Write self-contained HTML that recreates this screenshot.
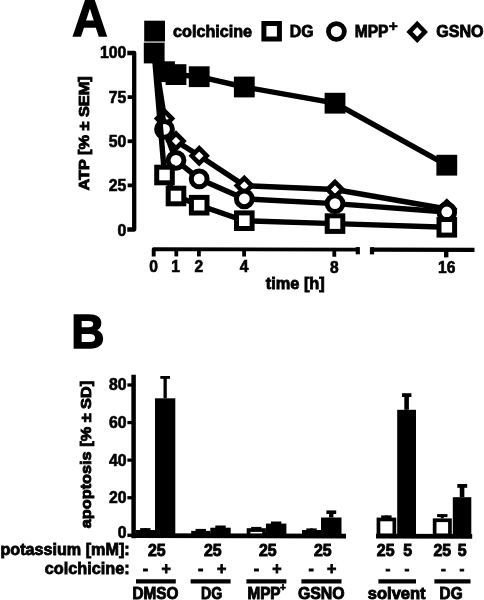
<!DOCTYPE html>
<html><head><meta charset="utf-8"><title>Figure</title>
<style>
html,body{margin:0;padding:0;background:#fff;}
svg{display:block;filter:blur(0.4px);}
svg text{font-family:"Liberation Sans",sans-serif;font-weight:bold;fill:#000;stroke:#000;stroke-width:0.6px;}
</style></head><body>
<svg width="484" height="600" viewBox="0 0 484 600">
<rect width="484" height="600" fill="#fff"/>
<text x="72.3" y="35.5" font-size="51.5" text-anchor="start" textLength="35.3" lengthAdjust="spacingAndGlyphs" style="stroke-width:1.5px">A</text>
<text x="71.2" y="347.6" font-size="48" text-anchor="start" textLength="33.3" lengthAdjust="spacingAndGlyphs" style="stroke-width:1.5px">B</text>
<rect x="144.2" y="20.7" width="20.8" height="20.8" fill="#000"/>
<text x="173.1" y="37.1" font-size="16" text-anchor="start" textLength="78.9" lengthAdjust="spacingAndGlyphs" style="stroke-width:0.8px">colchicine</text>
<rect x="263.9" y="23.5" width="15.5" height="15.5" fill="#fff" stroke="#000" stroke-width="5"/>
<text x="289.8" y="37.1" font-size="16" text-anchor="start" textLength="23.8" lengthAdjust="spacingAndGlyphs" style="stroke-width:0.8px">DG</text>
<circle cx="336.4" cy="31.5" r="7.95" fill="#fff" stroke="#000" stroke-width="4.8"/>
<text x="354.7" y="37.1" font-size="16" text-anchor="start" textLength="33.8" lengthAdjust="spacingAndGlyphs" style="stroke-width:0.8px">MPP</text>
<text x="393.3" y="31" font-size="15.5" text-anchor="middle" >+</text>
<polygon points="409.5,31.9 417.2,24.0 424.9,31.9 417.2,39.800000000000004" fill="#fff" stroke="#000" stroke-width="4.4"/>
<text x="436.2" y="37.1" font-size="16" text-anchor="start" textLength="47.4" lengthAdjust="spacingAndGlyphs" style="stroke-width:0.8px">GSNO</text>
<polyline points="127.3,53.0 134.2,53.0 134.2,229.5 127.3,229.5" fill="none" stroke="#000" stroke-width="4.3" stroke-linejoin="round"/>
<line x1="127.6" y1="97.125" x2="134.2" y2="97.125" stroke="#000" stroke-width="3.8" stroke-linecap="butt"/>
<line x1="127.6" y1="141.25" x2="134.2" y2="141.25" stroke="#000" stroke-width="3.8" stroke-linecap="butt"/>
<line x1="127.6" y1="185.375" x2="134.2" y2="185.375" stroke="#000" stroke-width="3.8" stroke-linecap="butt"/>
<text x="126.3" y="58.4" font-size="15.8" text-anchor="end" >100</text>
<text x="126.3" y="102.9" font-size="15.8" text-anchor="end" >75</text>
<text x="126.3" y="147.1" font-size="15.8" text-anchor="end" >50</text>
<text x="126.3" y="191.4" font-size="15.8" text-anchor="end" >25</text>
<text x="126.3" y="235.7" font-size="15.8" text-anchor="end" >0</text>
<text transform="translate(88.7,190.5) rotate(-90)" font-size="15.3" style="stroke-width:0.9px" textLength="114.2" lengthAdjust="spacingAndGlyphs">ATP [% ± SEM]</text>
<polyline points="153.7,256.4 153.7,249.15 359,249.6" fill="none" stroke="#000" stroke-width="3.9" stroke-linejoin="round"/>
<line x1="357.8" y1="247.1" x2="357.8" y2="254.3" stroke="#000" stroke-width="4.2" stroke-linecap="butt"/>
<line x1="176.3" y1="249.2" x2="176.3" y2="256.4" stroke="#000" stroke-width="3.8" stroke-linecap="butt"/>
<line x1="198.9" y1="249.25" x2="198.9" y2="256.45" stroke="#000" stroke-width="3.8" stroke-linecap="butt"/>
<line x1="244.1" y1="249.35" x2="244.1" y2="256.55" stroke="#000" stroke-width="3.8" stroke-linecap="butt"/>
<line x1="334.3" y1="249.55" x2="334.3" y2="256.75" stroke="#000" stroke-width="3.8" stroke-linecap="butt"/>
<line x1="371" y1="249.63" x2="474.5" y2="249.85" stroke="#000" stroke-width="4.1" stroke-linecap="butt"/>
<line x1="372" y1="247.2" x2="372" y2="254.4" stroke="#000" stroke-width="4.2" stroke-linecap="butt"/>
<line x1="446.2" y1="249.79" x2="446.2" y2="257.39" stroke="#000" stroke-width="4.4" stroke-linecap="butt"/>
<text x="153.7" y="272.0" font-size="15.6" text-anchor="middle" >0</text>
<text x="175.6" y="272.07" font-size="15.6" text-anchor="middle" >1</text>
<text x="198.9" y="272.15" font-size="15.6" text-anchor="middle" >2</text>
<text x="244.1" y="272.31" font-size="15.6" text-anchor="middle" >4</text>
<text x="334.3" y="272.62" font-size="15.6" text-anchor="middle" >8</text>
<text x="446.7" y="273.0" font-size="15.6" text-anchor="middle" >16</text>
<text x="265.7" y="289.0" font-size="16" text-anchor="start" textLength="59.1" lengthAdjust="spacingAndGlyphs" style="stroke-width:0.8px">time [h]</text>
<polyline points="154.2,53 164.5,118.6 176.0,141 199.2,155.8 244.3,185.6 335.0,189.5 446.8,209" fill="none" stroke="#000" stroke-width="5.4" stroke-linejoin="miter"/>
<polygon points="157.0,118.6 164.5,111.1 172.0,118.6 164.5,126.1" fill="#fff" stroke="#000" stroke-width="4.6"/>
<polygon points="168.5,141 176.0,133.5 183.5,141 176.0,148.5" fill="#fff" stroke="#000" stroke-width="4.6"/>
<polygon points="191.7,155.8 199.2,148.3 206.7,155.8 199.2,163.3" fill="#fff" stroke="#000" stroke-width="4.6"/>
<polygon points="236.8,185.6 244.3,178.1 251.8,185.6 244.3,193.1" fill="#fff" stroke="#000" stroke-width="4.6"/>
<polygon points="327.5,189.5 335.0,182.0 342.5,189.5 335.0,197.0" fill="#fff" stroke="#000" stroke-width="4.6"/>
<polygon points="439.3,209 446.8,201.5 454.3,209 446.8,216.5" fill="#fff" stroke="#000" stroke-width="4.6"/>
<polyline points="154.2,53 164.5,129.3 176.0,160.3 199.2,178.9 244.3,198.8 335.0,203.6 446.8,212" fill="none" stroke="#000" stroke-width="5.4" stroke-linejoin="miter"/>
<circle cx="164.5" cy="129.3" r="7.9" fill="#fff" stroke="#000" stroke-width="5"/>
<circle cx="176.0" cy="160.3" r="7.9" fill="#fff" stroke="#000" stroke-width="5"/>
<circle cx="199.2" cy="178.9" r="7.9" fill="#fff" stroke="#000" stroke-width="5"/>
<circle cx="244.3" cy="198.8" r="7.9" fill="#fff" stroke="#000" stroke-width="5"/>
<circle cx="335.0" cy="203.6" r="7.9" fill="#fff" stroke="#000" stroke-width="5"/>
<circle cx="446.8" cy="212" r="7.9" fill="#fff" stroke="#000" stroke-width="5"/>
<polyline points="154.2,53 164.5,175 176.0,196 199.2,205.2 244.3,220.7 335.0,223.6 446.8,227.3" fill="none" stroke="#000" stroke-width="5.4" stroke-linejoin="miter"/>
<rect x="156.7" y="167.2" width="15.6" height="15.6" fill="#fff" stroke="#000" stroke-width="5"/>
<rect x="168.2" y="188.2" width="15.6" height="15.6" fill="#fff" stroke="#000" stroke-width="5"/>
<rect x="191.39999999999998" y="197.39999999999998" width="15.6" height="15.6" fill="#fff" stroke="#000" stroke-width="5"/>
<rect x="236.5" y="212.89999999999998" width="15.6" height="15.6" fill="#fff" stroke="#000" stroke-width="5"/>
<rect x="327.2" y="215.79999999999998" width="15.6" height="15.6" fill="#fff" stroke="#000" stroke-width="5"/>
<rect x="439.0" y="219.5" width="15.6" height="15.6" fill="#fff" stroke="#000" stroke-width="5"/>
<polyline points="154.2,53 164.5,71.7 176.0,74.6 199.2,76.7 244.3,87 335.0,103.2 446.8,165.2" fill="none" stroke="#000" stroke-width="5.4" stroke-linejoin="miter"/>
<rect x="143.79999999999998" y="42.6" width="20.8" height="20.8" fill="#000"/>
<rect x="154.1" y="61.300000000000004" width="20.8" height="20.8" fill="#000"/>
<rect x="165.6" y="64.19999999999999" width="20.8" height="20.8" fill="#000"/>
<rect x="188.79999999999998" y="66.3" width="20.8" height="20.8" fill="#000"/>
<rect x="233.9" y="76.6" width="20.8" height="20.8" fill="#000"/>
<rect x="324.6" y="92.8" width="20.8" height="20.8" fill="#000"/>
<rect x="436.40000000000003" y="154.79999999999998" width="20.8" height="20.8" fill="#000"/>
<line x1="133.6" y1="374.8" x2="133.6" y2="538.3" stroke="#000" stroke-width="4.5" stroke-linecap="butt"/>
<line x1="127.4" y1="385.0" x2="133.6" y2="385.0" stroke="#000" stroke-width="3.3" stroke-linecap="butt"/>
<text x="126.6" y="390.4" font-size="15.8" text-anchor="end" >80</text>
<line x1="127.4" y1="422.575" x2="133.6" y2="422.575" stroke="#000" stroke-width="3.3" stroke-linecap="butt"/>
<text x="126.6" y="428.0" font-size="15.8" text-anchor="end" >60</text>
<line x1="127.4" y1="460.15" x2="133.6" y2="460.15" stroke="#000" stroke-width="3.3" stroke-linecap="butt"/>
<text x="126.6" y="465.5" font-size="15.8" text-anchor="end" >40</text>
<line x1="127.4" y1="497.72499999999997" x2="133.6" y2="497.72499999999997" stroke="#000" stroke-width="3.3" stroke-linecap="butt"/>
<text x="126.6" y="503.1" font-size="15.8" text-anchor="end" >20</text>
<line x1="127.4" y1="535.3" x2="133.6" y2="535.3" stroke="#000" stroke-width="3.3" stroke-linecap="butt"/>
<text x="126.6" y="538.1" font-size="15.8" text-anchor="end" >0</text>
<text transform="translate(90.5,528.3) rotate(-90)" font-size="15.3" style="stroke-width:0.9px" textLength="147.5" lengthAdjust="spacingAndGlyphs">apoptosis [% ± SD]</text>
<line x1="133.6" y1="535.6999999999999" x2="346" y2="536.0999999999999" stroke="#000" stroke-width="4.7" stroke-linecap="butt"/>
<line x1="376" y1="536.0999999999999" x2="472.2" y2="536.3" stroke="#000" stroke-width="4.7" stroke-linecap="butt"/>
<rect x="137.45" y="531.85" width="15.700000000000006" height="3.4499999999999544" fill="#fff" stroke="#000" stroke-width="3.7"/>
<line x1="145.3" y1="530" x2="145.3" y2="528.2" stroke="#000" stroke-width="3" stroke-linecap="butt"/>
<line x1="140.10000000000002" y1="529.6" x2="150.5" y2="529.6" stroke="#000" stroke-width="3.0" stroke-linecap="butt"/>
<rect x="155" y="398.3" width="20.30000000000001" height="138.49999999999994" fill="#000"/>
<line x1="165.15" y1="398.3" x2="165.15" y2="377" stroke="#000" stroke-width="3.3" stroke-linecap="butt"/>
<line x1="160.3" y1="377.4" x2="170.0" y2="377.4" stroke="#000" stroke-width="2.8" stroke-linecap="butt"/>
<rect x="193.04999999999998" y="532.75" width="15.400000000000023" height="2.549999999999977" fill="#fff" stroke="#000" stroke-width="3.7"/>
<line x1="200.75" y1="530.9" x2="200.75" y2="529" stroke="#000" stroke-width="3" stroke-linecap="butt"/>
<line x1="195.55" y1="530.4" x2="205.95" y2="530.4" stroke="#000" stroke-width="3.0" stroke-linecap="butt"/>
<rect x="210.3" y="527.7" width="20.399999999999977" height="9.099999999999909" fill="#000"/>
<line x1="220.5" y1="527.7" x2="220.5" y2="526.5" stroke="#000" stroke-width="3.3" stroke-linecap="butt"/>
<line x1="215.3" y1="526.9" x2="225.7" y2="526.9" stroke="#000" stroke-width="2.8" stroke-linecap="butt"/>
<rect x="248.54999999999998" y="530.0500000000001" width="15.49999999999999" height="5.249999999999909" fill="#fff" stroke="#000" stroke-width="3.7"/>
<line x1="256.29999999999995" y1="528.2" x2="256.29999999999995" y2="527" stroke="#000" stroke-width="3" stroke-linecap="butt"/>
<line x1="251.09999999999997" y1="528.4" x2="261.49999999999994" y2="528.4" stroke="#000" stroke-width="3.0" stroke-linecap="butt"/>
<rect x="265.9" y="523.6" width="20.5" height="13.199999999999932" fill="#000"/>
<line x1="276.15" y1="523.6" x2="276.15" y2="522.5" stroke="#000" stroke-width="3.3" stroke-linecap="butt"/>
<line x1="270.95" y1="522.9" x2="281.34999999999997" y2="522.9" stroke="#000" stroke-width="2.8" stroke-linecap="butt"/>
<rect x="303.85" y="531.85" width="15.3" height="3.4499999999999544" fill="#fff" stroke="#000" stroke-width="3.7"/>
<line x1="311.5" y1="530" x2="311.5" y2="528.5" stroke="#000" stroke-width="3" stroke-linecap="butt"/>
<line x1="306.3" y1="529.9" x2="316.7" y2="529.9" stroke="#000" stroke-width="3.0" stroke-linecap="butt"/>
<rect x="321" y="517.5" width="20.5" height="19.299999999999955" fill="#000"/>
<line x1="331.25" y1="517.5" x2="331.25" y2="511.4" stroke="#000" stroke-width="4.4" stroke-linecap="butt"/>
<line x1="326.4" y1="512.1999999999999" x2="336.2" y2="512.1999999999999" stroke="#000" stroke-width="3.6" stroke-linecap="butt"/>
<rect x="378.45000000000005" y="519.45" width="15.899999999999967" height="15.849999999999932" fill="#fff" stroke="#000" stroke-width="3.7"/>
<line x1="386.4" y1="517.6" x2="386.4" y2="515.5" stroke="#000" stroke-width="3" stroke-linecap="butt"/>
<line x1="381.2" y1="516.9" x2="391.59999999999997" y2="516.9" stroke="#000" stroke-width="3.0" stroke-linecap="butt"/>
<rect x="397.2" y="409.8" width="18.80000000000001" height="126.99999999999994" fill="#000"/>
<line x1="406.6" y1="409.8" x2="406.6" y2="394.2" stroke="#000" stroke-width="4.6" stroke-linecap="butt"/>
<line x1="402" y1="395.09999999999997" x2="411.4" y2="395.09999999999997" stroke="#000" stroke-width="3.8" stroke-linecap="butt"/>
<rect x="434.65000000000003" y="520.25" width="15.3" height="15.049999999999978" fill="#fff" stroke="#000" stroke-width="3.7"/>
<line x1="442.3" y1="518.4" x2="442.3" y2="514.2" stroke="#000" stroke-width="3" stroke-linecap="butt"/>
<line x1="437.1" y1="515.6" x2="447.5" y2="515.6" stroke="#000" stroke-width="3.0" stroke-linecap="butt"/>
<rect x="452.8" y="497.2" width="18.5" height="39.599999999999966" fill="#000"/>
<line x1="462.05" y1="497.2" x2="462.05" y2="485" stroke="#000" stroke-width="4.6" stroke-linecap="butt"/>
<line x1="457.3" y1="485.9" x2="467.2" y2="485.9" stroke="#000" stroke-width="3.8" stroke-linecap="butt"/>
<text x="0.4" y="555.2" font-size="16" text-anchor="start" textLength="129.3" lengthAdjust="spacingAndGlyphs" style="stroke-width:0.8px">potassium [mM]:</text>
<text x="44.8" y="574.2" font-size="16" text-anchor="start" textLength="84.9" lengthAdjust="spacingAndGlyphs" style="stroke-width:0.8px">colchicine:</text>
<text x="156.75" y="556.3" font-size="15.9" text-anchor="middle" style="stroke-width:0.9px">25</text>
<text x="212.75" y="556.3" font-size="15.9" text-anchor="middle" style="stroke-width:0.9px">25</text>
<text x="267.8" y="556.3" font-size="15.9" text-anchor="middle" style="stroke-width:0.9px">25</text>
<text x="322.75" y="556.3" font-size="15.9" text-anchor="middle" style="stroke-width:0.9px">25</text>
<text x="385.65000000000003" y="556.3" font-size="15.9" text-anchor="middle" style="stroke-width:0.9px">25</text>
<text x="442.34999999999997" y="556.3" font-size="15.9" text-anchor="middle" style="stroke-width:0.9px">25</text>
<text x="407.65" y="556.3" font-size="15.9" text-anchor="middle" style="stroke-width:0.9px">5</text>
<text x="462.25" y="556.3" font-size="15.9" text-anchor="middle" style="stroke-width:0.9px">5</text>
<text x="145.5" y="574.3" font-size="16" text-anchor="middle" style="stroke-width:0.8px">-</text>
<text x="200.6" y="574.3" font-size="16" text-anchor="middle" style="stroke-width:0.8px">-</text>
<text x="256.3" y="574.3" font-size="16" text-anchor="middle" style="stroke-width:0.8px">-</text>
<text x="311.1" y="574.3" font-size="16" text-anchor="middle" style="stroke-width:0.8px">-</text>
<text x="166.2" y="574.2" font-size="16" text-anchor="middle" style="stroke-width:0.8px">+</text>
<text x="221.6" y="574.2" font-size="16" text-anchor="middle" style="stroke-width:0.8px">+</text>
<text x="276.8" y="574.2" font-size="16" text-anchor="middle" style="stroke-width:0.8px">+</text>
<text x="331.7" y="574.2" font-size="16" text-anchor="middle" style="stroke-width:0.8px">+</text>
<text x="388" y="574.3" font-size="14.5" text-anchor="middle" style="stroke-width:0.8px">-</text>
<text x="407" y="574.3" font-size="14.5" text-anchor="middle" style="stroke-width:0.8px">-</text>
<text x="443.3" y="574.3" font-size="14.5" text-anchor="middle" style="stroke-width:0.8px">-</text>
<text x="462" y="574.3" font-size="14.5" text-anchor="middle" style="stroke-width:0.8px">-</text>
<line x1="136.0" y1="581.4" x2="175.8" y2="581.4" stroke="#000" stroke-width="4.3" stroke-linecap="butt"/>
<line x1="190.6" y1="581.4" x2="230.6" y2="581.4" stroke="#000" stroke-width="4.3" stroke-linecap="butt"/>
<line x1="246.4" y1="581.4" x2="286.4" y2="581.4" stroke="#000" stroke-width="4.3" stroke-linecap="butt"/>
<line x1="301.4" y1="581.4" x2="341.5" y2="581.4" stroke="#000" stroke-width="4.3" stroke-linecap="butt"/>
<line x1="378.4" y1="581.4" x2="416.0" y2="581.4" stroke="#000" stroke-width="4.3" stroke-linecap="butt"/>
<line x1="434.4" y1="581.4" x2="470.5" y2="581.4" stroke="#000" stroke-width="4.3" stroke-linecap="butt"/>
<text x="132.4" y="598.9" font-size="16.3" text-anchor="start" textLength="46.0" lengthAdjust="spacingAndGlyphs" style="stroke-width:0.9px">DMSO</text>
<text x="201.0" y="598.9" font-size="16.3" text-anchor="start" textLength="21.2" lengthAdjust="spacingAndGlyphs" style="stroke-width:0.9px">DG</text>
<text x="247.4" y="598.9" font-size="16.3" text-anchor="start" textLength="33.2" lengthAdjust="spacingAndGlyphs" style="stroke-width:0.9px">MPP</text>
<text x="283.0" y="591.2" font-size="10" text-anchor="middle" style="stroke-width:0.7px">+</text>
<text x="297.9" y="598.9" font-size="16.3" text-anchor="start" textLength="46.7" lengthAdjust="spacingAndGlyphs" style="stroke-width:0.9px">GSNO</text>
<text x="367.8" y="598.9" font-size="16.3" text-anchor="start" textLength="57.8" lengthAdjust="spacingAndGlyphs" style="stroke-width:0.9px">solvent</text>
<text x="439.6" y="598.9" font-size="16.3" text-anchor="start" textLength="23.0" lengthAdjust="spacingAndGlyphs" style="stroke-width:0.9px">DG</text>
</svg>
</body></html>
